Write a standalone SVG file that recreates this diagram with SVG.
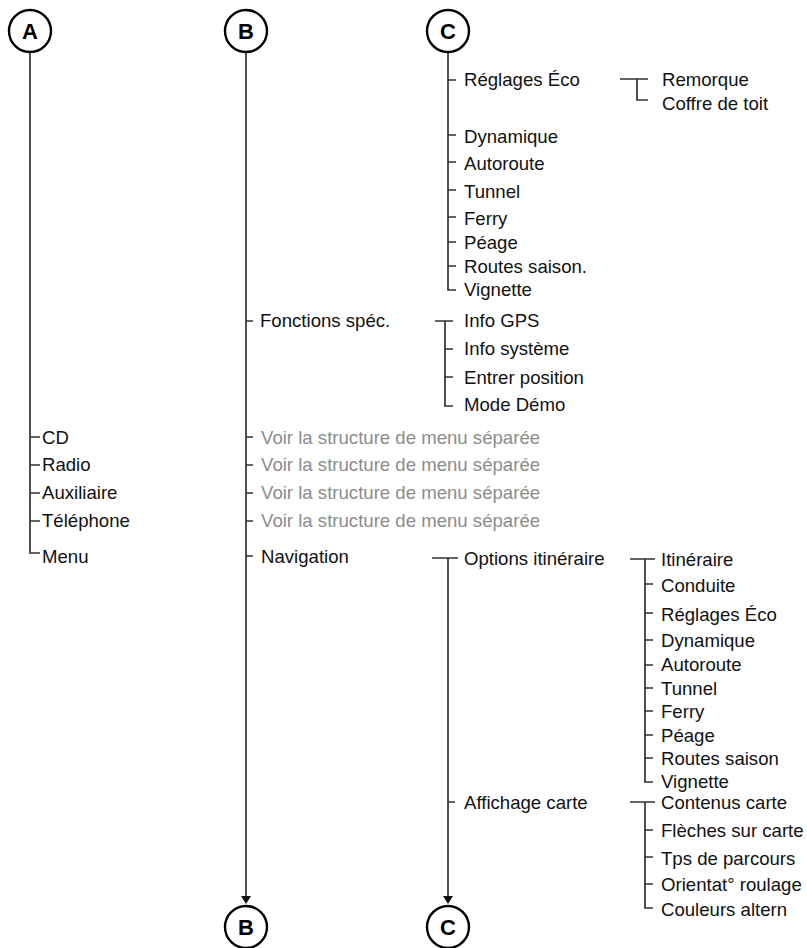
<svg xmlns="http://www.w3.org/2000/svg" width="807" height="948" viewBox="0 0 807 948">
<style>
.t{font-family:"Liberation Sans",Arial,sans-serif;font-size:18.6px;fill:#111}
.g{fill:#8c8c8c}
.l{fill:none;stroke:#333;stroke-width:1.7}
.c{fill:#fff;stroke:#000;stroke-width:2.4}
.k{font-family:"Liberation Sans",Arial,sans-serif;font-size:22px;font-weight:bold;fill:#000;text-anchor:middle}
</style>
<g id="connectors">
<path class="l" d="M30,52 V553 H40 M30,437 H40 M30,465 H40 M30,493 H40 M30,521 H40"/>
<path class="l" d="M246,52 V896"/>
<path fill="#111" d="M241,896 L251,896 L246,904 Z"/>
<path class="l" d="M246,321 H253 M246,437 H253 M246,465 H253 M246,493 H253 M246,521 H253 M246,556 H253"/>
<path class="l" d="M448,52 V290 H456 M448,80 H456 M448,135 H456 M448,162 H456 M448,190 H456 M448,217 H456 M448,242 H456 M448,266 H456"/>
<path class="l" d="M620,79 H648 M637,79 V100 H648"/>
<path class="l" d="M435,321 H453 M445,321 V406 H453 M445,349 H453 M445,377 H453"/>
<path class="l" d="M432,558 H458 M448,558 V896 M448,802 H455"/>
<path fill="#111" d="M443,896 L453,896 L448,904 Z"/>
<path class="l" d="M630,559 H655 M645,559 V782 H653 M645,584 H653 M645,613 H653 M645,640 H653 M645,665 H653 M645,688 H653 M645,711 H653 M645,735 H653 M645,758 H653"/>
<path class="l" d="M630,802 H655 M645,802 V908 H653 M645,830 H653 M645,857 H653 M645,884 H653"/>
</g>
<g id="nodeA"><circle class="c" cx="30" cy="31" r="21"/><text class="k" x="30" y="39">A</text></g>
<g id="nodeB"><circle class="c" cx="246" cy="31" r="21"/><text class="k" x="246" y="39">B</text></g>
<g id="nodeC"><circle class="c" cx="448" cy="31" r="21"/><text class="k" x="448" y="39">C</text></g>
<g id="nodeB2"><circle class="c" cx="246" cy="927" r="21"/><text class="k" x="246" y="935">B</text></g>
<g id="nodeC2"><circle class="c" cx="448" cy="927" r="21"/><text class="k" x="448" y="935">C</text></g>
<g id="colA">
<text class="t" x="42" y="443.5">CD</text>
<text class="t" x="42" y="471">Radio</text>
<text class="t" x="42" y="498.5">Auxiliaire</text>
<text class="t" x="42" y="527">Téléphone</text>
<text class="t" x="42" y="563">Menu</text>
</g>
<g id="colB">
<text class="t" x="260" y="327">Fonctions spéc.</text>
<text class="t g" x="261" y="443.5">Voir la structure de menu séparée</text>
<text class="t g" x="261" y="471">Voir la structure de menu séparée</text>
<text class="t g" x="261" y="498.5">Voir la structure de menu séparée</text>
<text class="t g" x="261" y="527">Voir la structure de menu séparée</text>
<text class="t" x="261" y="563">Navigation</text>
</g>
<g id="colC">
<text class="t" x="464" y="86">Réglages Éco</text>
<text class="t" x="464" y="143">Dynamique</text>
<text class="t" x="464" y="170">Autoroute</text>
<text class="t" x="464" y="198">Tunnel</text>
<text class="t" x="464" y="225">Ferry</text>
<text class="t" x="464" y="248.5">Péage</text>
<text class="t" x="464" y="272.5">Routes saison.</text>
<text class="t" x="464" y="296">Vignette</text>
<text class="t" x="662" y="86">Remorque</text>
<text class="t" x="662" y="110">Coffre de toit</text>
<text class="t" x="464" y="327">Info GPS</text>
<text class="t" x="464" y="355">Info système</text>
<text class="t" x="464" y="383.5">Entrer position</text>
<text class="t" x="464" y="411">Mode Démo</text>
<text class="t" x="464" y="565">Options itinéraire</text>
<text class="t" x="464" y="809">Affichage carte</text>
</g>
<g id="colD">
<text class="t" x="661" y="565.5">Itinéraire</text>
<text class="t" x="661" y="591.5">Conduite</text>
<text class="t" x="661" y="620.5">Réglages Éco</text>
<text class="t" x="661" y="647">Dynamique</text>
<text class="t" x="661" y="670.5">Autoroute</text>
<text class="t" x="661" y="695">Tunnel</text>
<text class="t" x="661" y="717.5">Ferry</text>
<text class="t" x="661" y="741.5">Péage</text>
<text class="t" x="661" y="765">Routes saison</text>
<text class="t" x="661" y="788">Vignette</text>
<text class="t" x="661" y="809">Contenus carte</text>
<text class="t" x="661" y="836.5">Flèches sur carte</text>
<text class="t" x="661" y="865">Tps de parcours</text>
<text class="t" x="661" y="891">Orientat° roulage</text>
<text class="t" x="661" y="916">Couleurs altern</text>
</g>
</svg>
